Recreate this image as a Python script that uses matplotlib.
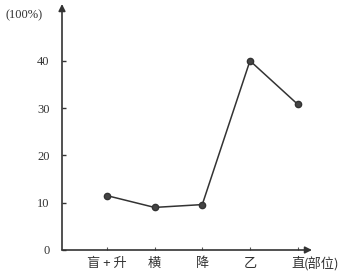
import matplotlib.pyplot as plt

plt.rcParams['font.family'] = ['Liberation Serif', 'Noto Sans CJK SC', 'DejaVu Sans']

# data
parts = ['盲 + 升', '横', '降', '乙', '直']
positions = [1, 2, 3, 4, 5]
values = [11.5, 9.0, 9.6, 40.0, 30.8]
yticks = [0, 10, 20, 30, 40]

W, H = 351, 276
fig = plt.figure(figsize=(W / 100, H / 100), dpi=100)
ax = fig.add_axes([62 / W, 26 / H, (312 - 62) / W, (250 - 4) / H])

ax.plot(positions, values, '-', color='#333333', linewidth=1.1,
        marker='o', markersize=4.5, markerfacecolor='#444444', markeredgecolor='#333333')

ax.set_xlim(0.06, 5.3)
ax.set_ylim(0, 52)

for s in ['top', 'right', 'left', 'bottom']:
    ax.spines[s].set_visible(False)

# axes with arrows
ax.annotate('', xy=(0.06, 52), xytext=(0.06, 0), xycoords='data',
            arrowprops=dict(arrowstyle='-|>', color='#333333', lw=1.2,
                            mutation_scale=10, shrinkA=0, shrinkB=0))
ax.annotate('', xy=(5.3, 0), xytext=(0.06, 0), xycoords='data',
            arrowprops=dict(arrowstyle='-|>', color='#333333', lw=1.2,
                            mutation_scale=10, shrinkA=0, shrinkB=0))

ax.set_yticks(yticks)
ax.set_yticklabels([str(v) for v in yticks], fontsize=9, color='#333333')
ax.tick_params(axis='y', direction='in', length=3, width=1, color='#333333', pad=9)

ax.set_xticks(positions)
ax.set_xticklabels(parts, fontsize=9.5, color='#333333',
                   family=['Noto Sans CJK SC', 'DejaVu Sans'])
ax.tick_params(axis='x', direction='in', length=2, width=0.8, color='#555555', pad=5)

fig.text(5 / W, 1 - 18 / H, '(100%)', fontsize=9, color='#333333')
fig.text(304 / W, 1 - 264 / H, '(部位)', fontsize=9.5, color='#333333', va='center',
         family=['Noto Sans CJK SC', 'DejaVu Sans'])

fig.savefig('out.png', dpi=100)
